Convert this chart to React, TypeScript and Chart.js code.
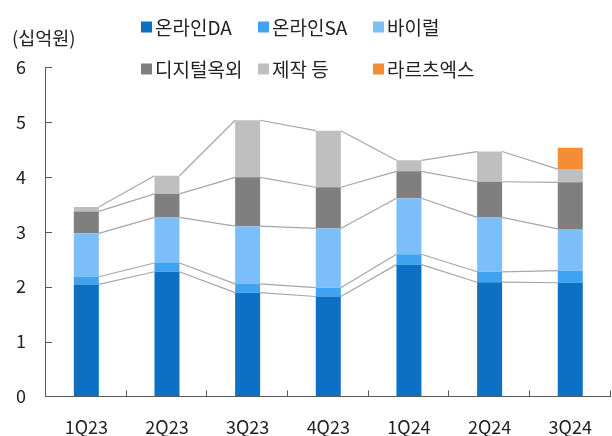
import React, { useEffect, useRef } from 'react';
import { Chart, registerables } from 'chart.js';

Chart.register(...registerables);

const FONT = '"Noto Sans CJK KR", "Noto Sans", sans-serif';

const categories = ['1Q23', '2Q23', '3Q23', '4Q23', '1Q24', '2Q24', '3Q24'];
const seriesNames = ['온라인DA', '온라인SA', '바이럴', '디지털옥외', '제작 등', '라르츠엑스'];
const onlineDA = [2.04, 2.27, 1.89, 1.82, 2.4, 2.08, 2.07];
const onlineSA = [0.14, 0.16, 0.16, 0.16, 0.19, 0.19, 0.22];
const viral = [0.79, 0.83, 1.05, 1.08, 1.02, 0.99, 0.76];
const digitalOOH = [0.4, 0.43, 0.89, 0.75, 0.49, 0.65, 0.85];
const production = [0.08, 0.33, 1.04, 1.03, 0.2, 0.55, 0.24];
const lartzx = [null, null, null, null, null, null, 0.39];
const yTicks = [0, 1, 2, 3, 4, 5, 6];
const unitLabel = '(십억원)';

const colors = ['#0C70C4', '#3FA3F2', '#7CBEF9', '#7F7F7F', '#BFBFBF', '#F68C34'];

const overlayPlugin = {
  id: 'overlay',
  beforeDatasetsDraw(chart: any) {
    const ctx = chart.ctx;
    ctx.save();
    ctx.strokeStyle = '#A6A6A6';
    ctx.lineWidth = 1.2;
    for (let d = 0; d < 5; d++) {
      const meta = chart.getDatasetMeta(d);
      const els = meta.data;
      for (let i = 0; i < els.length - 1; i++) {
        const a = els[i];
        const b = els[i + 1];
        ctx.beginPath();
        ctx.moveTo(a.x + a.width / 2, a.y);
        ctx.lineTo(b.x - b.width / 2, b.y);
        ctx.stroke();
      }
    }
    ctx.restore();
  },
  afterDraw(chart: any) {
    const ctx = chart.ctx;
    const { left, right, bottom } = chart.chartArea;
    const ys = chart.scales.y;
    ctx.save();
    ctx.strokeStyle = '#595959';
    ctx.lineWidth = 1;
    ys.ticks.forEach((_t: any, i: number) => {
      const y = Math.round(ys.getPixelForTick(i)) + 0.5;
      ctx.beginPath();
      ctx.moveTo(left, y);
      ctx.lineTo(left + 6, y);
      ctx.stroke();
    });
    const n = categories.length;
    const w = (right - left) / n;
    for (let k = 1; k <= n; k++) {
      const x = Math.round(left + k * w) - 0.5;
      ctx.beginPath();
      ctx.moveTo(x, bottom);
      ctx.lineTo(x, bottom - 6);
      ctx.stroke();
    }
    ctx.fillStyle = '#222';
    ctx.font = `18.5px ${FONT}`;
    ctx.textBaseline = 'middle';
    ctx.textAlign = 'left';
    ctx.fillText(unitLabel, 12, 38);
    const colX = [141, 258, 373];
    const rowY = [27, 69];
    chart.data.datasets.forEach((ds: any, i: number) => {
      const cx = colX[i % 3];
      const cy = rowY[Math.floor(i / 3)];
      ctx.fillStyle = ds.backgroundColor;
      ctx.fillRect(cx, cy - 5.5, 11, 11);
      ctx.fillStyle = '#222';
      ctx.font = `19px ${FONT}`;
      ctx.fillText(ds.label, cx + 14, cy + 1);
    });
    ctx.restore();
  },
};

export default function App() {
  const ref = useRef<HTMLCanvasElement>(null);
  useEffect(() => {
    document.body.style.margin = '0';
    const series = [onlineDA, onlineSA, viral, digitalOOH, production, lartzx];
    const chart = new Chart(ref.current!, {
      type: 'bar',
      data: {
        labels: categories,
        datasets: series.map((data, i) => ({
          label: seriesNames[i],
          data: data as any,
          backgroundColor: colors[i],
          borderWidth: 0,
          categoryPercentage: 1,
          barPercentage: 0.31,
        })),
      },
      options: {
        animation: false,
        responsive: true,
        maintainAspectRatio: false,
        layout: { padding: { top: 67, right: 1, left: -4, bottom: -22 } },
        plugins: { legend: { display: false }, tooltip: { enabled: false } },
        scales: {
          x: {
            stacked: true,
            grid: { display: true, drawOnChartArea: false, drawTicks: false },
            border: { color: '#595959', width: 1 },
            ticks: { font: { family: FONT, size: 18 }, color: '#222', padding: 20 },
          },
          y: {
            stacked: true,
            min: 0,
            max: 6,
            afterBuildTicks: (scale: any) => {
              scale.ticks = yTicks.map((v) => ({ value: v }));
            },
            grid: { display: true, drawOnChartArea: false, drawTicks: false },
            border: { color: '#595959', width: 1 },
            ticks: { font: { family: FONT, size: 18 }, color: '#222', padding: 20 },
          },
        },
      },
      plugins: [overlayPlugin],
    });
    return () => chart.destroy();
  }, []);
  return (
    <div style={{ position: 'relative', width: 612, height: 436 }}>
      <canvas ref={ref} />
    </div>
  );
}
